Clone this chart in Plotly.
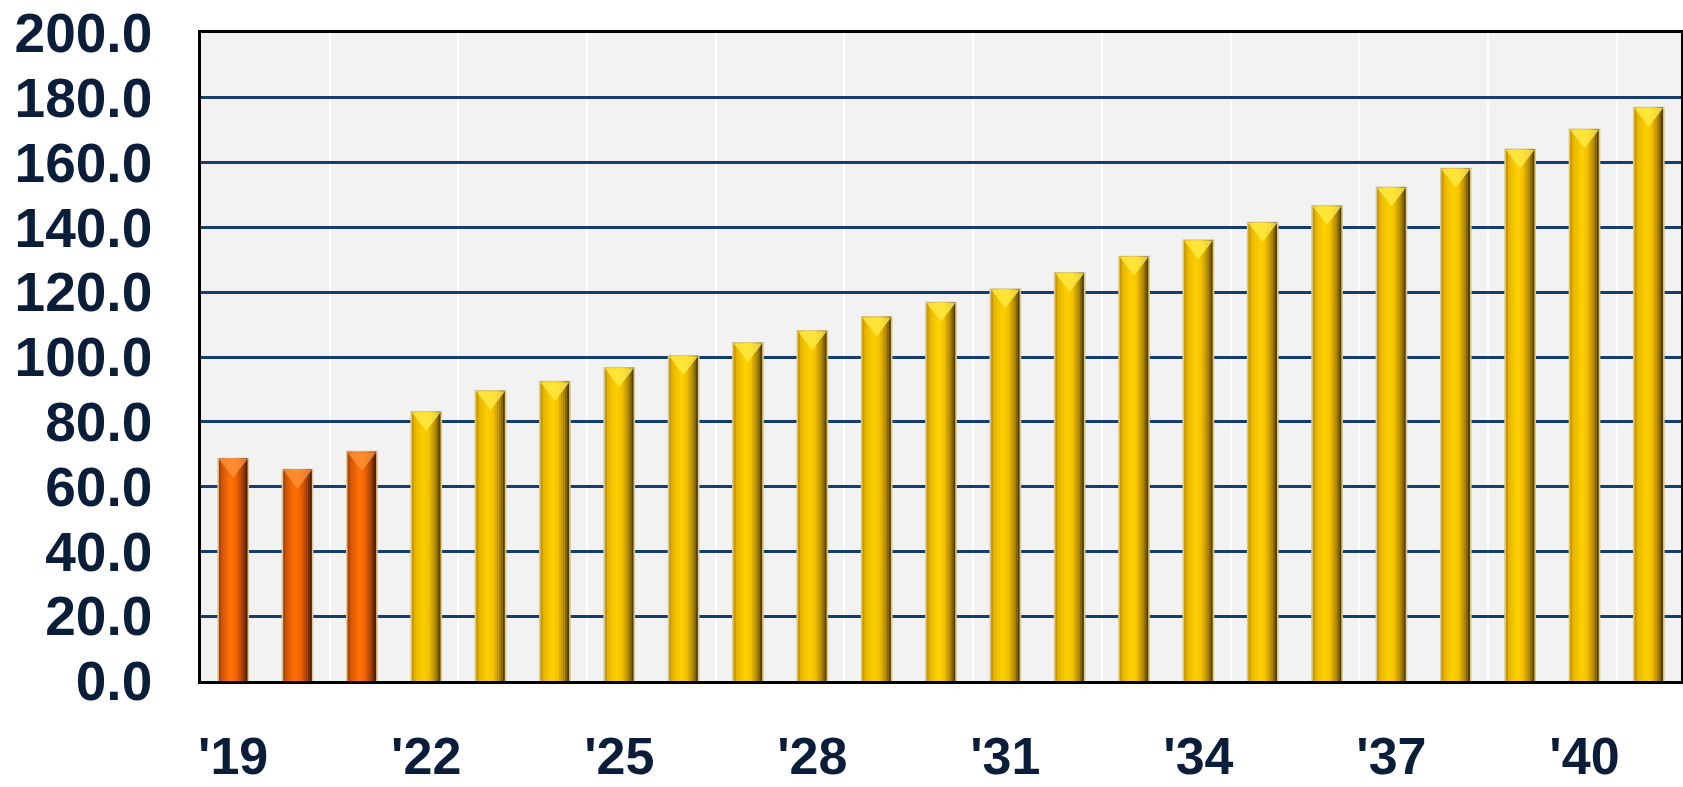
import plotly.graph_objects as go

years = list(range(2019, 2042))
values = [68.7, 65.3, 70.8, 83.1, 89.6, 92.4, 96.7, 100.4, 104.4, 108.1, 112.4,
          116.8, 121.0, 126.0, 131.0, 136.1, 141.5, 146.7, 152.4, 158.2, 164.1,
          170.3, 177.0]
is_actual = [True, True, True] + [False] * 20
tick_years = [2019, 2022, 2025, 2028, 2031, 2034, 2037, 2040]
tick_labels = ["'19", "'22", "'25", "'28", "'31", "'34", "'37", "'40"]
y_ticks = [0, 20, 40, 60, 80, 100, 120, 140, 160, 180, 200]

# colour stops across bar width (left -> right) to imitate bevelled 3D bars
orange_stops = [(0.0, (160, 60, 5)), (0.12, (215, 85, 5)), (0.4, (255, 115, 10)),
                (0.6, (245, 102, 5)), (0.85, (155, 58, 5)), (1.0, (60, 20, 0))]
gold_stops = [(0.0, (185, 140, 0)), (0.12, (235, 185, 0)), (0.42, (255, 210, 0)),
              (0.6, (245, 195, 0)), (0.85, (165, 125, 0)), (1.0, (55, 45, 0))]


def interp(stops, t):
    for (t0, c0), (t1, c1) in zip(stops[:-1], stops[1:]):
        if t0 <= t <= t1:
            f = (t - t0) / (t1 - t0) if t1 > t0 else 0
            return "rgb(%d,%d,%d)" % tuple(round(a + (b - a) * f) for a, b in zip(c0, c1))
    c = stops[-1][1]
    return "rgb(%d,%d,%d)" % c


BAR_W = 0.47
N = 14
fig = go.Figure()
# outline bar
fig.add_trace(go.Bar(x=years, y=values, width=BAR_W,
                     marker=dict(color=["#E06000" if a else "#E8B800" for a in is_actual],
                                 line=dict(color="#D8C89A", width=1.5)),
                     hoverinfo="skip", showlegend=False))
sw = (BAR_W - 0.03) / N
for i in range(N):
    t = (i + 0.5) / N
    cols = [interp(orange_stops, t) if a else interp(gold_stops, t) for a in is_actual]
    fig.add_trace(go.Bar(x=years, y=values, width=sw * 1.02,
                         offset=-BAR_W / 2 + 0.015 + i * sw,
                         marker=dict(color=cols, line=dict(width=0)),
                         hoverinfo="skip", showlegend=False))

# light bevel chevron on top of each bar (marker sits just below the bar top)
CHEVRON_DROP = 2.1
fig.add_trace(go.Scatter(
    x=years, y=[v - CHEVRON_DROP for v in values], mode="markers",
    marker=dict(symbol="triangle-down", size=25,
                color=["rgba(255,150,60,0.75)" if a else "rgba(255,235,70,0.8)" for a in is_actual],
                line=dict(width=0)),
    hoverinfo="skip", showlegend=False, cliponaxis=False))

font_family = "Liberation Sans, Arial, sans-serif"
fig.update_layout(
    width=1683, height=787,
    margin=dict(l=201, r=2, t=33, b=106, pad=0),
    barmode="overlay",
    paper_bgcolor="white",
    plot_bgcolor="#F2F2F2",
    font=dict(family=font_family, color="#0A1E3A"),
)
fig.update_xaxes(
    range=[2018.5, 2041.5], automargin=False,
    tickmode="array", tickvals=tick_years, ticktext=tick_labels,
    tickfont=dict(size=52, family=font_family, color="#0A1E3A", weight="bold"),
    showgrid=False, zeroline=False,
    ticks="outside", ticklen=28, tickcolor="rgba(0,0,0,0)",
    showline=True, linecolor="black", linewidth=2.5, mirror=True,
    minor=dict(tickmode="array", tickvals=[2020.5 + 2 * k for k in range(11)],
               showgrid=True, gridcolor="white", gridwidth=2, ticks=""),
)
fig.update_yaxes(
    range=[0, 200], automargin=False,
    tickmode="array", tickvals=y_ticks, tickformat=".1f",
    tickfont=dict(size=55, family=font_family, color="#0A1E3A", weight="bold"),
    showgrid=True, gridcolor="#173C6E", gridwidth=2.5, zeroline=False,
    ticks="outside", ticklen=35, tickcolor="rgba(0,0,0,0)",
    showline=True, linecolor="black", linewidth=2.5, mirror=True,
)

fig.write_html("out.html", config={"displayModeBar": False},
               post_script="document.body.style.margin='0';")
